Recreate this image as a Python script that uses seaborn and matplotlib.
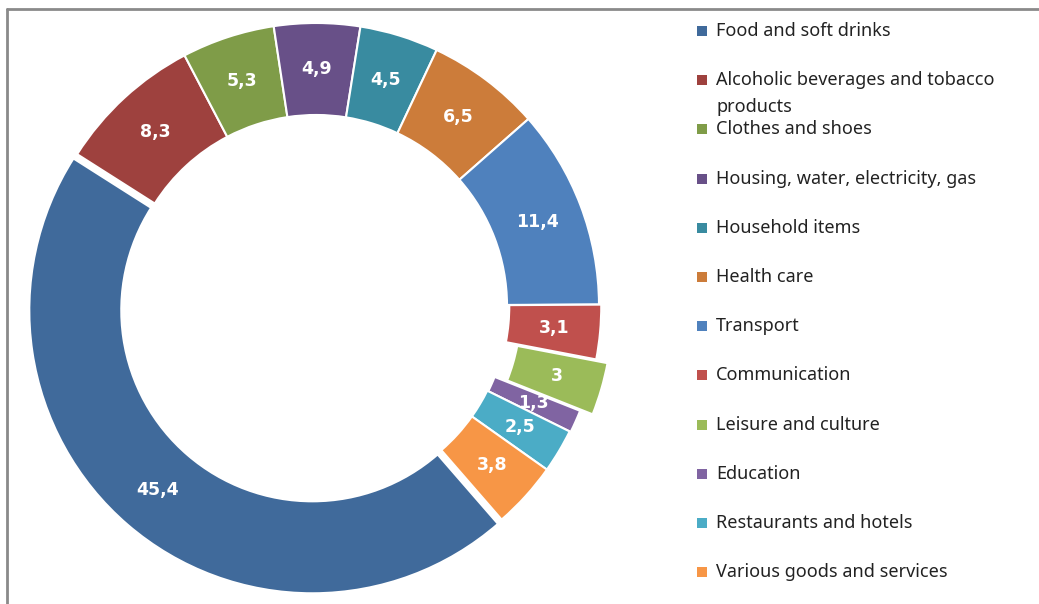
import numpy as np
import matplotlib
matplotlib.use("Agg")
import matplotlib.pyplot as plt
from matplotlib.patches import Rectangle
from matplotlib.lines import Line2D
import seaborn as sns

categories = ["Food and soft drinks", "Alcoholic beverages and tobacco\nproducts",
              "Clothes and shoes", "Housing, water, electricity, gas", "Household items",
              "Health care", "Transport", "Communication", "Leisure and culture",
              "Education", "Restaurants and hotels", "Various goods and services"]
values = [45.4, 8.3, 5.3, 4.9, 4.5, 6.5, 11.4, 3.1, 3.0, 1.3, 2.5, 3.8]
value_labels = ["45,4", "8,3", "5,3", "4,9", "4,5", "6,5", "11,4", "3,1", "3", "1,3", "2,5", "3,8"]
colors = ["#406A9B", "#9E413E", "#7F9C48", "#685088", "#398BA0", "#CC7C3A",
          "#4F81BD", "#C0504D", "#9BBB59", "#8064A2", "#4BACC6", "#F79646"]
explode = [0.02, 0, 0, 0, 0, 0, 0, 0.008, 0.05, 0.004, 0, 0]

sns.set_theme(style="white")
plt.rcParams['font.family'] = ['Noto Sans', 'DejaVu Sans']

W, H = 1039, 604
fig = plt.figure(figsize=(W / 100, H / 100), dpi=100)
cx, cy, R = 316, 306, 283
half = 300
ax = fig.add_axes([(cx - half) / W, (H - cy - half) / H, 2 * half / W, 2 * half / H])
ring = 0.325
wedges, _ = ax.pie(values, colors=sns.color_palette(colors), startangle=-49, counterclock=False,
                   explode=explode, radius=1.0,
                   wedgeprops=dict(width=ring, edgecolor="white", linewidth=1.5))
lim = half / R
ax.set_xlim(-lim, lim)
ax.set_ylim(-lim, lim)
ax.set_aspect("equal")
ax.axis("off")

for w, lab in zip(wedges, value_labels):
    th = np.deg2rad((w.theta1 + w.theta2) / 2)
    r = w.r - ring / 2
    x = w.center[0] + r * np.cos(th)
    y = w.center[1] + r * np.sin(th)
    ax.text(x, y, lab, ha="center", va="center", color="white", fontsize=12.5,
            fontweight="bold", family="DejaVu Sans")

# legend drawn manually to mimic layout
for i, (cat, col) in enumerate(zip(categories, colors)):
    yc = 31 + 49.2 * i
    fig.add_artist(Rectangle((697 / W, 1 - (yc + 5) / H), 10 / W, 10 / H,
                             transform=fig.transFigure, facecolor=col, edgecolor="none"))
    lines = cat.split("\n")
    fig.text(716 / W, 1 - yc / H, lines[0], ha="left", va="center", fontsize=13, color="#222222")
    if len(lines) > 1:
        fig.text(716 / W, 1 - (yc + 27) / H, lines[1], ha="left", va="center", fontsize=13, color="#222222")

# chart frame (top and left edges)
fig.add_artist(Line2D([7 / W, 7 / W], [0, 1 - 9 / H], transform=fig.transFigure, color="#8a8a8a", lw=2))
fig.add_artist(Line2D([7 / W, 1], [1 - 9 / H, 1 - 9 / H], transform=fig.transFigure, color="#8a8a8a", lw=2))

fig.savefig("out.png", dpi=100, facecolor="white")
